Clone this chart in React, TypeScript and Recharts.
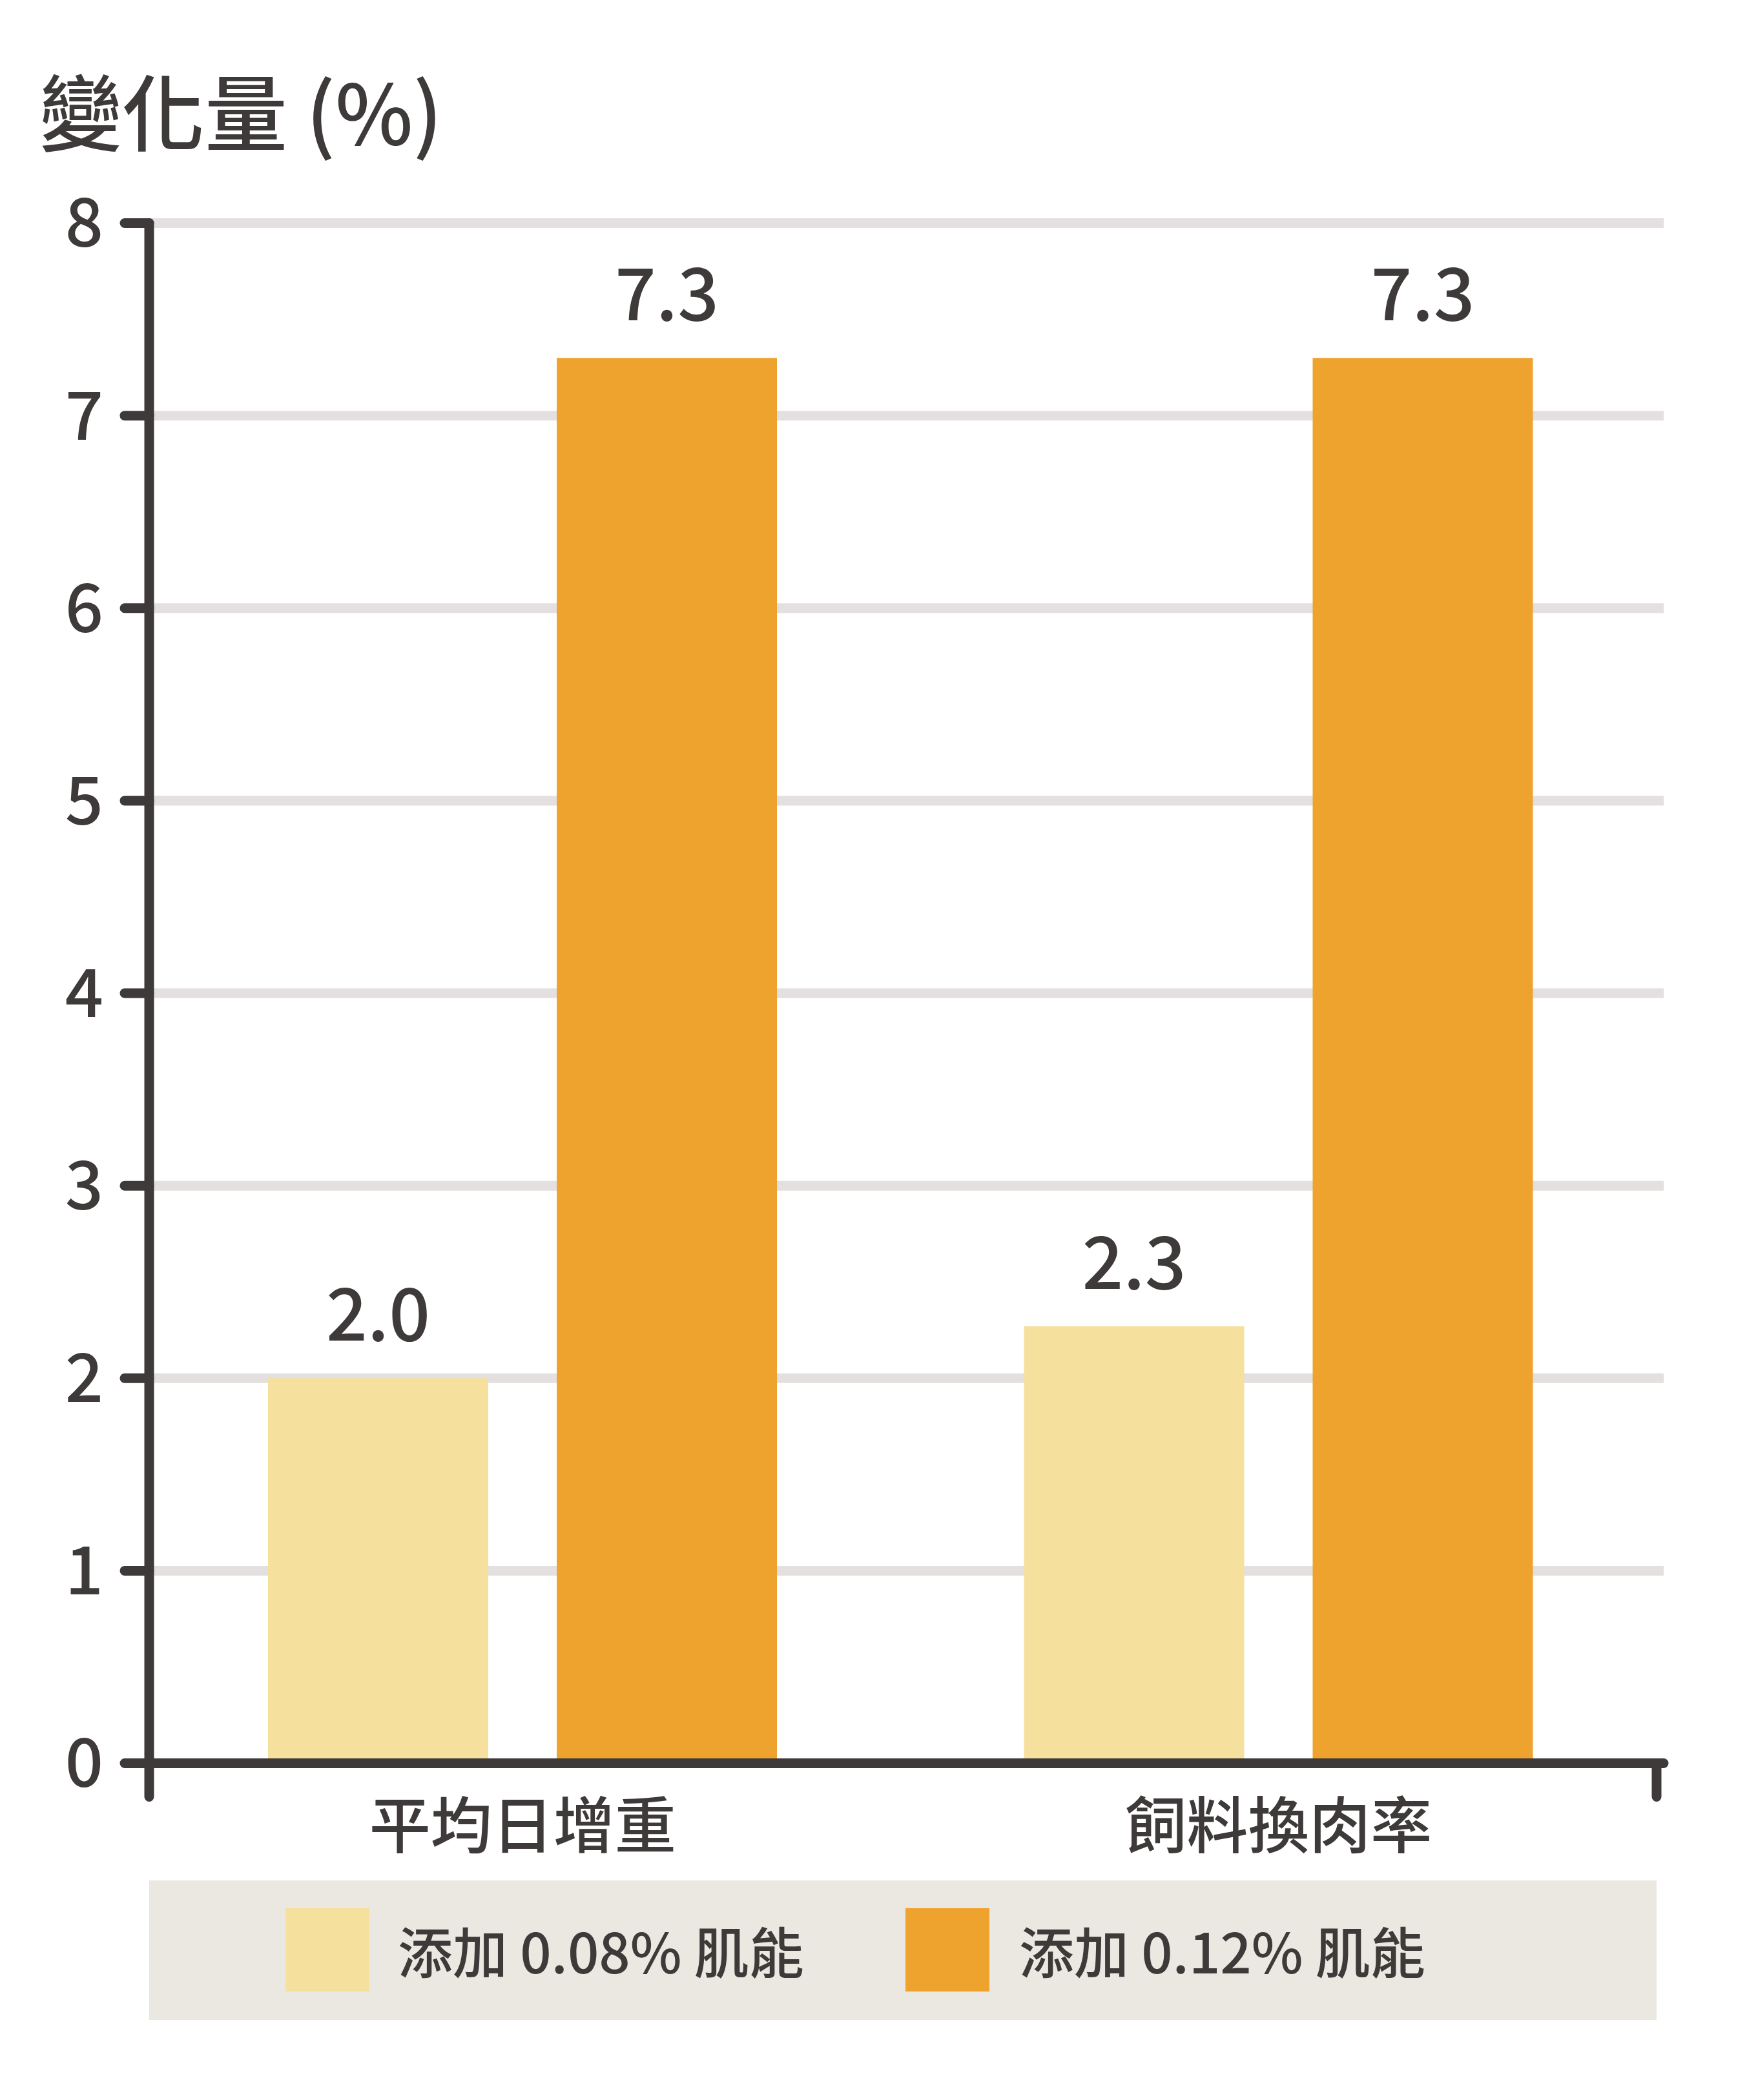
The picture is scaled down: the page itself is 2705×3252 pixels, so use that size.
import React from "react";
import {
  BarChart,
  Bar,
  XAxis,
  YAxis,
  CartesianGrid,
  LabelList,
} from "recharts";

const categories = ["平均日增重", "飼料換肉率"];
const low = [2.0, 2.27]; // 添加 0.08% 肌能
const high = [7.3, 7.3]; // 添加 0.12% 肌能
const seriesNames = ["添加 0.08% 肌能", "添加 0.12% 肌能"];
const yTicks = [0, 1, 2, 3, 4, 5, 6, 7, 8];
const boundaryTicks = [0, 1, 2];

const data = categories.map((name, i) => ({ name, low: low[i], high: high[i] }));

const FONT = '"Noto Sans CJK TC", "Noto Sans", sans-serif';
const INK = "#3e3a39";
const LIGHT = "#f6e09e";
const DARK = "#eea32f";
const GRID = "#e3e0df";

const axisStroke = { stroke: INK, strokeWidth: 15, strokeLinecap: "round" as const };

export default function App() {
  return (
    <div
      style={{
        position: "absolute",
        left: 0,
        top: 0,
        width: 2705,
        height: 3252,
        background: "#fff",
        fontFamily: FONT,
      }}
    >
      <BarChart
        width={2705}
        height={3252}
        data={data}
        margin={{ top: 345.5, right: 129, bottom: 311.5, left: 0 }}
        barSize={341}
        barGap={106}
        style={{ position: "absolute", left: 0, top: 0 }}
      >
        <CartesianGrid vertical={false} stroke={GRID} strokeWidth={15} />
        {/* boundary ticks between categories */}
        <XAxis
          xAxisId={0}
          type="number"
          domain={[0, 2]}
          allowDataOverflow
          ticks={boundaryTicks}
          interval={0}
          tickFormatter={() => ""}
          tickSize={52}
          height={60}
          padding={{ left: 0, right: 11 }}
          axisLine={axisStroke}
          tickLine={axisStroke}
        />
        <XAxis
          xAxisId="cat"
          dataKey="name"
          type="category"
          height={150}
          tickSize={0}
          tickMargin={4}
          axisLine={false}
          tickLine={false}
          padding={{ left: -7, right: 11 }}
          tick={{ fill: INK, fontSize: 95, fontFamily: FONT, fontWeight: 500 }}
        />
        <YAxis
          width={231}
          domain={[0, 8]}
          ticks={yTicks}
          interval={0}
          tickSize={38}
          tickMargin={33}
          axisLine={axisStroke}
          tickLine={axisStroke}
          tick={{ fill: INK, fontSize: 104, fontFamily: FONT, fontWeight: 500 }}
        />
        <Bar xAxisId="cat" dataKey="low" fill={LIGHT} isAnimationActive={false}>
          <LabelList
            dataKey="low"
            position="top"
            offset={58}
            formatter={(v: any) => Number(v).toFixed(1)}
            fill={INK}
            fontSize={112}
            fontFamily={FONT}
            fontWeight={500}
          />
        </Bar>
        <Bar xAxisId="cat" dataKey="high" fill={DARK} isAnimationActive={false}>
          <LabelList
            dataKey="high"
            position="top"
            offset={58}
            formatter={(v: any) => Number(v).toFixed(1)}
            fill={INK}
            fontSize={112}
            fontFamily={FONT}
            fontWeight={500}
          />
        </Bar>
      </BarChart>

      <svg
        width={2705}
        height={3252}
        style={{ position: "absolute", left: 0, top: 0, pointerEvents: "none" }}
      >
        <text x={61} y={224} fontSize={128} fill={INK} fontFamily={FONT} fontWeight={500}>
          變化量 (%)
        </text>
        <rect x={231} y={2912} width={2334} height={216} fill="#ebe8e2" />
        <rect x={442} y={2955} width={130} height={129} fill={LIGHT} />
        <text x={616} y={3056} fontSize={85} fill={INK} fontFamily={FONT} fontWeight={500}>
          {seriesNames[0]}
        </text>
        <rect x={1402} y={2955} width={130} height={129} fill={DARK} />
        <text x={1578} y={3056} fontSize={85} fill={INK} fontFamily={FONT} fontWeight={500}>
          {seriesNames[1]}
        </text>
      </svg>
    </div>
  );
}
